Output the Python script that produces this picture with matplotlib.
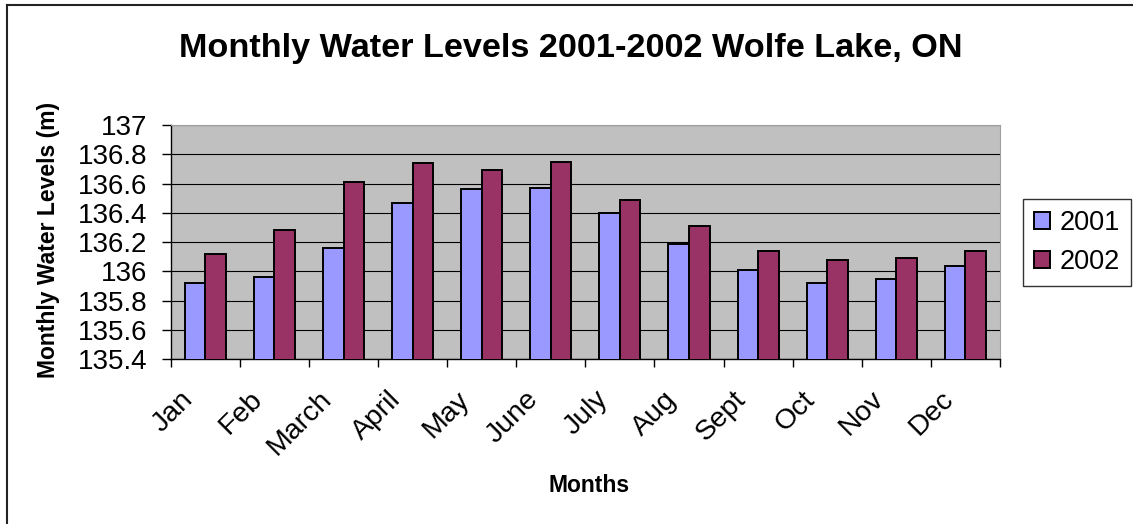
import numpy as np
import matplotlib
matplotlib.use('Agg')
import matplotlib.pyplot as plt
from matplotlib.lines import Line2D
from matplotlib.transforms import ScaledTranslation

plt.rcParams['font.family'] = ['Liberation Sans', 'DejaVu Sans']

# Niveles mensuales del lago (m)
meses = ['Jan', 'Feb', 'March', 'April', 'May', 'June',
         'July', 'Aug', 'Sept', 'Oct', 'Nov', 'Dec']
nivel_2001 = [135.92, 135.96, 136.16, 136.47, 136.56, 136.57,
              136.40, 136.19, 136.01, 135.92, 135.95, 136.04]
nivel_2002 = [136.12, 136.28, 136.61, 136.74, 136.69, 136.75,
              136.49, 136.31, 136.14, 136.08, 136.09, 136.14]
y_ticks = [135.4, 135.6, 135.8, 136, 136.2, 136.4, 136.6, 136.8, 137]

fig = plt.figure(figsize=(11.33, 5.24), dpi=100)
ax = fig.add_axes([0.1507, 0.3143, 0.7319, 0.4472])
ax.set_facecolor('#C0C0C0')

x = np.arange(len(meses))
ancho = 0.297
ax.bar(x - ancho / 2, nivel_2001, ancho, color='#9999FF', edgecolor='black',
       linewidth=1.4, label='2001', zorder=3)
ax.bar(x + ancho / 2, nivel_2002, ancho, color='#993366', edgecolor='black',
       linewidth=1.4, label='2002', zorder=3)

ax.set_ylim(135.4, 137)
ax.set_xlim(-0.5, len(meses) - 0.5)
ax.set_yticks(y_ticks)
ax.set_yticklabels([f'{v:g}' for v in y_ticks], fontsize=20)
ax.yaxis.grid(True, color='black', linewidth=0.8, zorder=1)
ax.set_axisbelow(True)
ax.tick_params(axis='y', length=6.5, width=1, pad=10.2, direction='out')

# marcas del eje x entre categorías, etiquetas giradas aparte
ax.set_xticks(np.arange(len(meses) + 1) - 0.5)
ax.set_xticklabels([])
ax.tick_params(axis='x', length=5.8, width=1, direction='out')
desplaz = ScaledTranslation(-0.07, -0.27, fig.dpi_scale_trans)
for i, m in enumerate(meses):
    ax.text(i, 0, m, transform=ax.get_xaxis_transform() + desplaz,
            rotation=45, ha='right', va='top', fontsize=20.5)

for lado in ['top', 'right']:
    ax.spines[lado].set_color('#A0A0A0')
for lado in ['left', 'bottom']:
    ax.spines[lado].set_color('black')
    ax.spines[lado].set_linewidth(1)

fig.text(0.5035, 0.891, 'Monthly Water Levels 2001-2002 Wolfe Lake, ON',
         ha='center', va='baseline', fontsize=24.7, fontweight='bold')
fig.text(0.0424, 0.542, 'Monthly Water Levels (m)', rotation=90,
         ha='center', va='center', fontsize=16.5, fontweight='bold')
fig.text(0.52, 0.061, 'Months', ha='center', va='baseline',
         fontsize=16.5, fontweight='bold')

leg = ax.legend(loc='upper left', bbox_to_anchor=(1023 / 1133, 1 - 199 / 524),
                bbox_transform=fig.transFigure, fontsize=19.5, frameon=True,
                fancybox=False, handlelength=0.6, handleheight=0.6,
                handletextpad=0.35, labelspacing=0.5, borderpad=0.4,
                borderaxespad=0)
leg.get_frame().set_edgecolor('black')
leg.get_frame().set_linewidth(1)

# borde del gráfico (izquierda y arriba)
fig.add_artist(Line2D([7 / 1133, 7 / 1133], [0, 1 - 5 / 524],
                      transform=fig.transFigure, color='#222222', linewidth=1.5))
fig.add_artist(Line2D([7 / 1133, 1], [1 - 5 / 524, 1 - 5 / 524],
                      transform=fig.transFigure, color='#222222', linewidth=1.5))

fig.savefig('out.png', dpi=100)
